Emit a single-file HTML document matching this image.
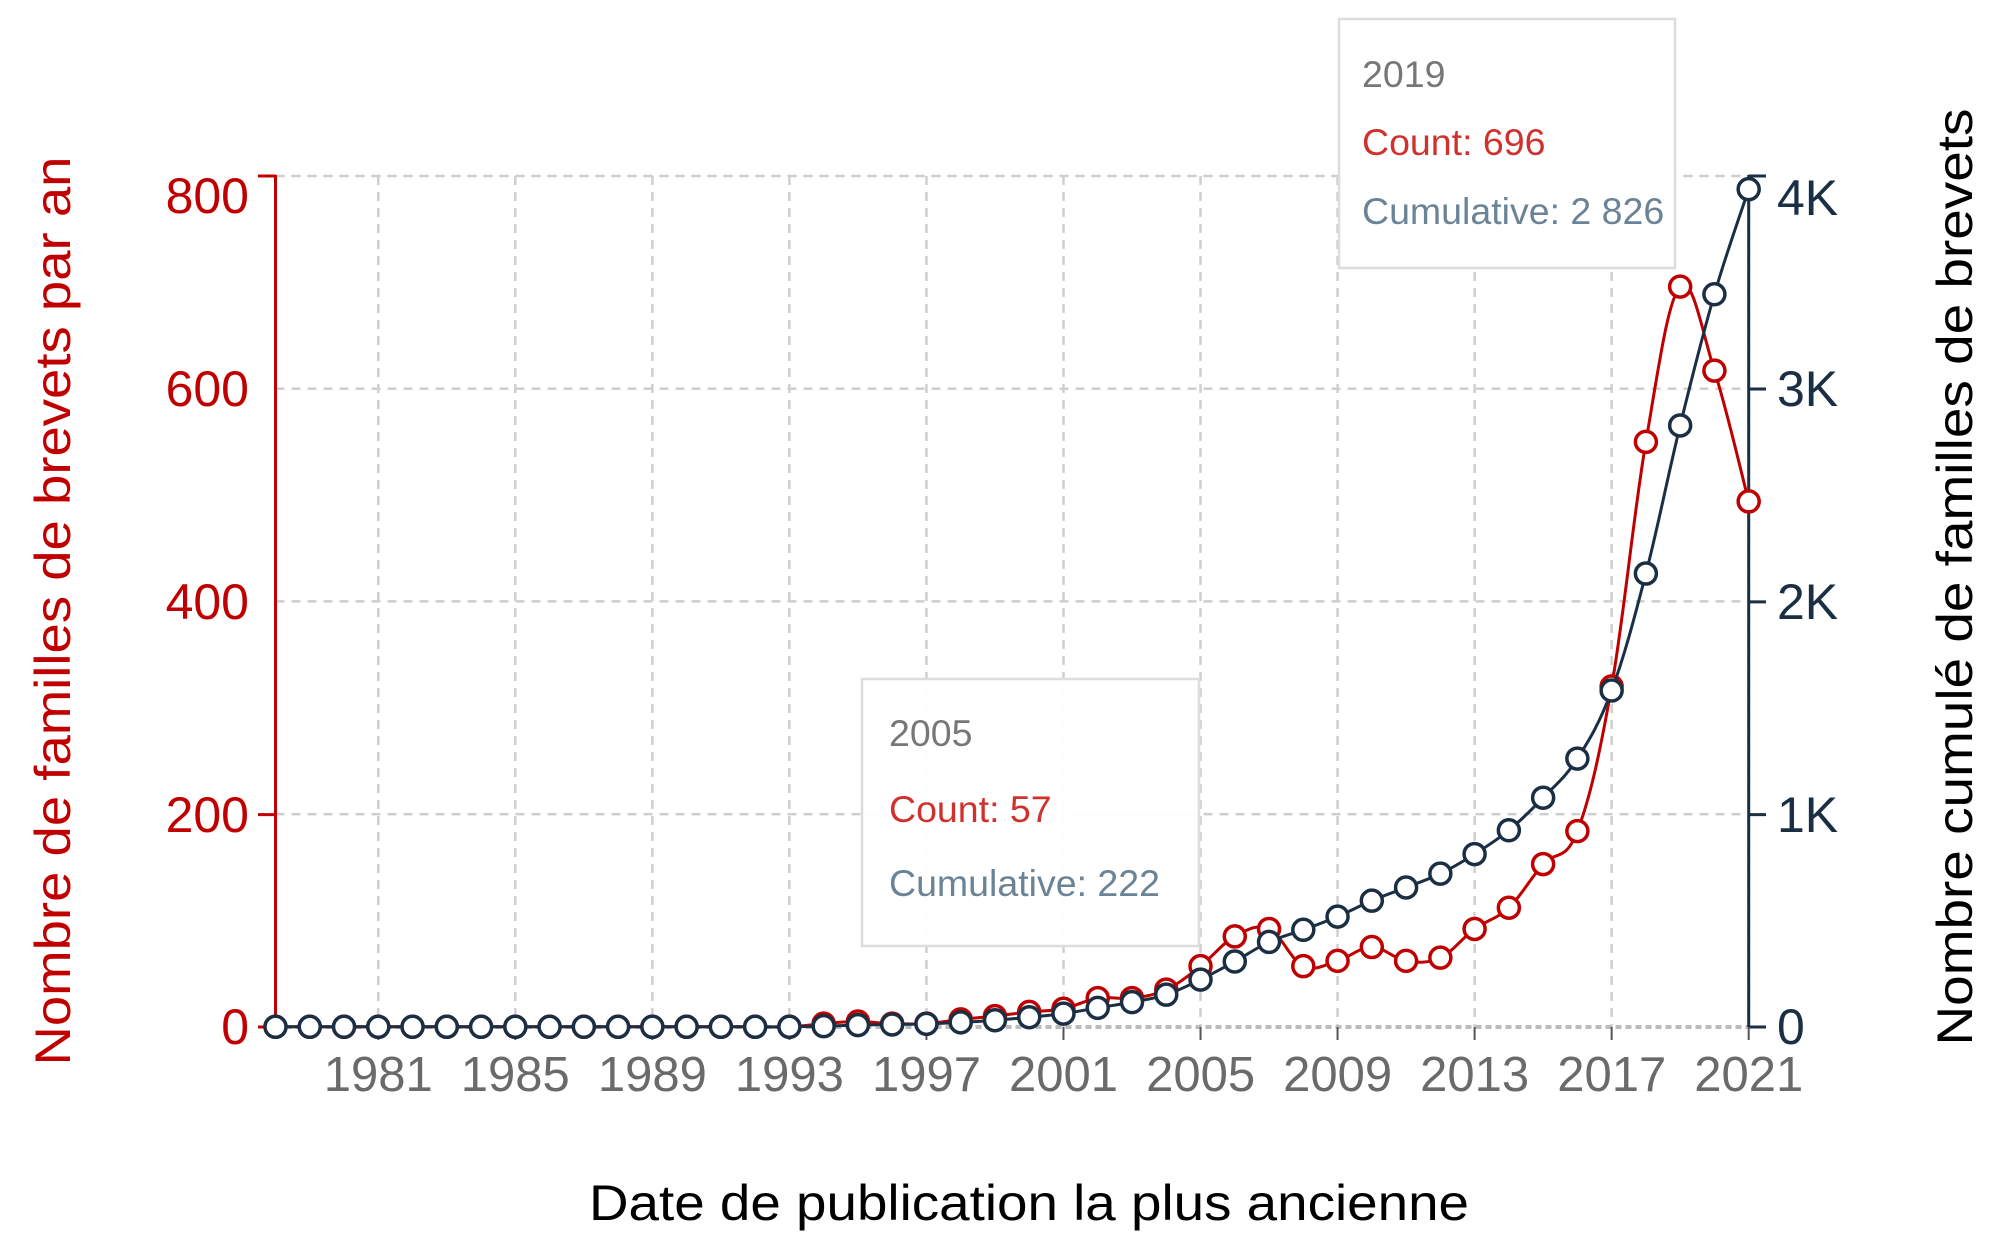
<!DOCTYPE html>
<html><head><meta charset="utf-8"><style>
html,body{margin:0;padding:0;background:#fff;}
svg{display:block;}
text{font-family:"Liberation Sans",sans-serif;}
</style></head><body>
<svg id="s" width="2000" height="1250" viewBox="0 0 2000 1250" xmlns="http://www.w3.org/2000/svg">
<g id="grid" stroke="#cfcfcf" stroke-width="2.5" stroke-dasharray="9 7" fill="none"></g>
<line x1="275.5" y1="1027" x2="1748.7" y2="1027" stroke="#bbb" stroke-width="4" stroke-dasharray="6 4"/>
<line x1="275.5" y1="175" x2="275.5" y2="1027" stroke="#c00000" stroke-width="3"/>
<line x1="258" y1="176" x2="275.5" y2="176" stroke="#c00000" stroke-width="3"/>
<line x1="258" y1="814.6" x2="275.5" y2="814.6" stroke="#c00000" stroke-width="3"/>
<line x1="258" y1="1027" x2="275.5" y2="1027" stroke="#c00000" stroke-width="3"/>
<line x1="1748.7" y1="175" x2="1748.7" y2="1027" stroke="#1a2e44" stroke-width="3"/>
<line x1="1748.7" y1="176" x2="1766" y2="176" stroke="#1a2e44" stroke-width="3"/>
<line x1="1748.7" y1="389" x2="1766" y2="389" stroke="#1a2e44" stroke-width="3"/>
<line x1="1748.7" y1="601.9" x2="1766" y2="601.9" stroke="#1a2e44" stroke-width="3"/>
<line x1="1748.7" y1="814.6" x2="1766" y2="814.6" stroke="#1a2e44" stroke-width="3"/>
<line x1="1748.7" y1="1027" x2="1766" y2="1027" stroke="#1a2e44" stroke-width="3"/>
<g font-size="50" fill="#c00000" text-anchor="end">
<text x="249" y="213">800</text>
<text x="249" y="406">600</text>
<text x="249" y="619">400</text>
<text x="249" y="832">200</text>
<text x="249" y="1044">0</text>
</g>
<g font-size="50" fill="#1a2e44">
<text x="1777" y="215">4K</text>
<text x="1777" y="406">3K</text>
<text x="1777" y="619">2K</text>
<text x="1777" y="832">1K</text>
<text x="1777" y="1044">0</text>
</g>
<g font-size="49" fill="#6a6a6a" text-anchor="middle">
<text x="378.3" y="1091">1981</text>
<text x="515.3" y="1091">1985</text>
<text x="652.4" y="1091">1989</text>
<text x="789.4" y="1091">1993</text>
<text x="926.5" y="1091">1997</text>
<text x="1063.5" y="1091">2001</text>
<text x="1200.6" y="1091">2005</text>
<text x="1337.6" y="1091">2009</text>
<text x="1474.6" y="1091">2013</text>
<text x="1611.7" y="1091">2017</text>
<text x="1748.7" y="1091">2021</text>
</g>
<text transform="translate(70,611) rotate(-90)" text-anchor="middle" font-size="50" fill="#c00000" textLength="909" lengthAdjust="spacingAndGlyphs">Nombre de familles de brevets par an</text>
<text transform="translate(1972,577) rotate(-90)" text-anchor="middle" font-size="50" fill="#000" textLength="937" lengthAdjust="spacingAndGlyphs">Nombre cumulé de familles de brevets</text>
<text x="1029" y="1220" text-anchor="middle" font-size="50" fill="#000" textLength="880" lengthAdjust="spacingAndGlyphs">Date de publication la plus ancienne</text>
<g id="series"></g>
<rect x="862" y="679" width="337" height="267" fill="#fff" fill-opacity="0.93" stroke="#ddd" stroke-width="2.5"/>
<text x="889" y="746" font-size="37.5" fill="#777">2005</text>
<text x="889" y="822" font-size="37.5" fill="#d0312d">Count: 57</text>
<text x="889" y="896" font-size="37.5" fill="#6a8397">Cumulative: 222</text>
<rect x="1339" y="19" width="336" height="249" fill="#fff" stroke="#ddd" stroke-width="2.5"/>
<text x="1362" y="87" font-size="37.5" fill="#777">2019</text>
<text x="1362" y="155" font-size="37.5" fill="#d0312d">Count: 696</text>
<text x="1362" y="224" font-size="37.5" fill="#6a8397">Cumulative: 2 826</text>
</svg>
<script>
(function(){
var NS="http://www.w3.org/2000/svg";
function X(y){return 275.5+(y-1978)*34.26;}
function Y(v){return 1026.8-v*1.0635;}
var g=document.getElementById("grid");
function ln(p,a){var e=document.createElementNS(NS,"line");for(var k in a)e.setAttribute(k,a[k]);p.appendChild(e);return e;}
for(var yr=1981;yr<=2021;yr+=4){ln(g,{x1:X(yr),y1:176,x2:X(yr),y2:1027});}
[200,400,600,800].forEach(function(v){ln(g,{x1:275.5,y1:Y(v),x2:1748.7,y2:Y(v)});});
var s=document.getElementById("series");
for(var yr=1981;yr<=2021;yr+=4){ln(s,{x1:X(yr),y1:1027,x2:X(yr),y2:1040,stroke:"#555","stroke-width":2});}
var c={1994:3,1995:5,1996:3,1997:3,1998:7,1999:10,2000:14,2001:17,2002:27,2003:27,2004:35,2005:57,2006:85,2007:92,2008:57,2009:62,2010:75,2011:62,2012:65,2013:92,2014:112,2015:153,2016:184,2017:320,2018:550,2019:696,2020:617,2021:494};
var counts=[],cum=[],t=0;
for(var y=1978;y<=2021;y++){var v=c[y]||0;counts.push(v);t+=v;if(y==2005)t=222;cum.push(t);}
function curve(vals,col,sc){
 var P=vals.map(function(v,i){return [X(1978+i),Y(v/sc)];});
 var d="M"+P[0][0]+","+P[0][1];
 var k=0.18;
 for(var i=0;i<P.length-1;i++){
  var p0=P[Math.max(0,i-1)],p1=P[i],p2=P[i+1],p3=P[Math.min(P.length-1,i+2)];
  var c1x=p1[0]+(p2[0]-p0[0])*k,c1y=p1[1]+(p2[1]-p0[1])*k;
  var c2x=p2[0]-(p3[0]-p1[0])*k,c2y=p2[1]-(p3[1]-p1[1])*k;
  d+=" C"+c1x+","+c1y+" "+c2x+","+c2y+" "+p2[0]+","+p2[1];
 }
 var p=document.createElementNS(NS,"path");p.setAttribute("d",d);p.setAttribute("fill","none");p.setAttribute("stroke",col);p.setAttribute("stroke-width","3");s.appendChild(p);
}
function dots(vals,col,sc){
 vals.forEach(function(v,i){var e=document.createElementNS(NS,"circle");e.setAttribute("cx",X(1978+i));e.setAttribute("cy",Y(v/sc));e.setAttribute("r","10.5");e.setAttribute("fill","#fff");e.setAttribute("stroke",col);e.setAttribute("stroke-width","3.5");s.appendChild(e);});
}
curve(counts,"#c00000",1);dots(counts,"#c00000",1);
curve(cum,"#1a2e44",5);dots(cum,"#1a2e44",5);
})();
</script>
</body></html>
